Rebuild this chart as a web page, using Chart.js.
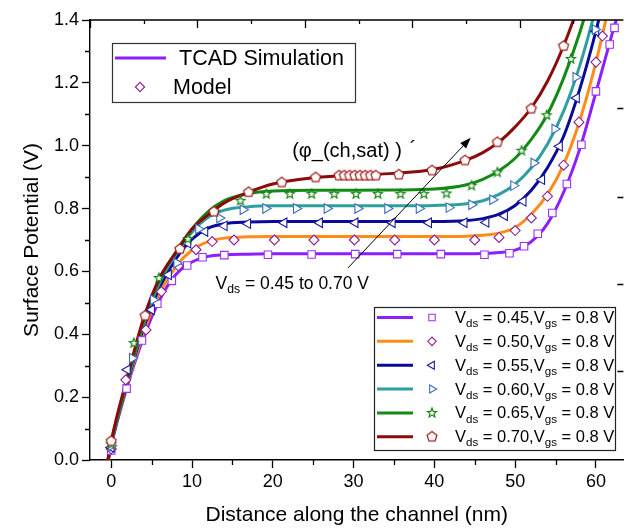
<!DOCTYPE html>
<html>
<head>
<meta charset="utf-8">
<script src="https://cdn.jsdelivr.net/npm/chart.js@4.4.1/dist/chart.umd.min.js"></script>
<style>
  html, body { margin: 0; padding: 0; background: #fff; }
</style>
</head>
<body>
<canvas id="potChart" width="630" height="528"></canvas>
<script>
// Surface potential along the channel, Vgs = 0.8 V, Vds = 0.45 ... 0.70 V
var vdsLabels = ['0.45', '0.50', '0.55', '0.60', '0.65', '0.70'];

// TCAD simulation curves, all read on the same x grid (nm)
var tcadX   = [-1, 0, 2, 4, 6, 8, 10, 12, 14, 17, 20, 25, 30, 35, 40, 44, 46, 48, 50, 52, 54, 56, 58, 60, 62, 64];
var tcad045 = [-0.09, 0.045, 0.235, 0.39, 0.51, 0.59, 0.63, 0.648, 0.653, 0.655, 0.656, 0.656, 0.656, 0.656, 0.656, 0.656, 0.657, 0.66, 0.668, 0.695, 0.752, 0.852, 0.99, 1.17, 1.355, 1.53];
var tcad050 = [-0.09, 0.05, 0.24, 0.405, 0.53, 0.615, 0.668, 0.695, 0.706, 0.71, 0.711, 0.711, 0.711, 0.711, 0.711, 0.712, 0.715, 0.722, 0.74, 0.782, 0.845, 0.94, 1.08, 1.265, 1.49, 1.72];
var tcad055 = [-0.09, 0.05, 0.245, 0.42, 0.55, 0.64, 0.703, 0.738, 0.752, 0.757, 0.759, 0.759, 0.759, 0.759, 0.759, 0.762, 0.768, 0.782, 0.81, 0.858, 0.93, 1.03, 1.18, 1.365, 1.58, 1.8];
var tcad060 = [-0.09, 0.052, 0.25, 0.43, 0.565, 0.655, 0.725, 0.772, 0.795, 0.806, 0.809, 0.809, 0.809, 0.809, 0.81, 0.815, 0.825, 0.845, 0.878, 0.93, 1.005, 1.11, 1.255, 1.44, 1.66, 1.9];
var tcad065 = [-0.09, 0.055, 0.255, 0.44, 0.575, 0.662, 0.735, 0.79, 0.825, 0.848, 0.856, 0.858, 0.858, 0.859, 0.862, 0.876, 0.893, 0.92, 0.96, 1.02, 1.1, 1.215, 1.36, 1.54, 1.75, 1.98];
var tcad070 = [-0.09, 0.06, 0.265, 0.45, 0.58, 0.66, 0.735, 0.78, 0.818, 0.852, 0.878, 0.898, 0.906, 0.912, 0.925, 0.955, 0.978, 1.012, 1.06, 1.12, 1.205, 1.318, 1.46, 1.64, 1.85, 2.08];

// model points
var model045X = [0.0, 1.9, 3.8, 5.7, 7.5, 9.4, 11.3, 14.0, 19.4, 24.8, 30.2, 35.4, 40.8, 46.2, 49.3, 51.1, 52.8, 54.6, 56.4, 58.2, 60.0, 61.7, 62.3];
var model045Y = [0.03, 0.227, 0.38, 0.497, 0.57, 0.619, 0.645, 0.652, 0.653, 0.654, 0.655, 0.655, 0.655, 0.653, 0.658, 0.68, 0.72, 0.786, 0.878, 1.003, 1.173, 1.322, 1.375];
var model050X = [0.0, 1.8, 4.3, 6.2, 8.3, 10.5, 12.5, 15.2, 20.2, 25.1, 30.1, 35.1, 40.0, 45.0, 48.0, 50.0, 52.0, 54.0, 56.0, 57.9, 60.0, 60.8];
var model050Y = [0.035, 0.255, 0.414, 0.536, 0.618, 0.669, 0.695, 0.70, 0.70, 0.70, 0.70, 0.70, 0.70, 0.70, 0.708, 0.73, 0.77, 0.839, 0.938, 1.075, 1.266, 1.349];
var model055X = [0.0, 2.0, 5.0, 7.1, 9.5, 11.6, 14.0, 16.9, 21.4, 25.8, 30.2, 34.8, 39.3, 43.7, 46.4, 48.7, 51.0, 53.3, 55.5, 57.6, 60.0];
var model055Y = [0.04, 0.287, 0.478, 0.589, 0.69, 0.727, 0.745, 0.752, 0.755, 0.755, 0.755, 0.755, 0.755, 0.755, 0.756, 0.777, 0.823, 0.892, 0.998, 1.152, 1.364];
var model060X = [0.0, 2.6, 5.2, 8.1, 10.8, 13.4, 16.3, 19.1, 22.9, 26.7, 30.5, 34.2, 38.1, 41.8, 44.6, 47.2, 49.8, 52.3, 54.9, 57.5, 59.9];
var model060Y = [0.045, 0.324, 0.51, 0.627, 0.735, 0.77, 0.796, 0.80, 0.80, 0.80, 0.80, 0.80, 0.80, 0.803, 0.812, 0.828, 0.873, 0.945, 1.053, 1.218, 1.37];
var model065X = [0.0, 2.8, 5.9, 9.5, 12.8, 16.0, 19.2, 22.1, 24.8, 27.6, 30.3, 33.0, 35.8, 38.7, 41.5, 44.6, 47.8, 50.8, 53.9, 56.9];
var model065Y = [0.05, 0.372, 0.579, 0.703, 0.79, 0.825, 0.846, 0.846, 0.846, 0.846, 0.846, 0.846, 0.846, 0.846, 0.848, 0.873, 0.915, 0.984, 1.097, 1.276];
var model070X = [0.0, 4.2, 8.5, 12.7, 17.0, 21.1, 25.3, 28.2, 28.85, 29.5, 30.15, 30.8, 31.45, 32.1, 32.75, 35.6, 39.7, 43.8, 47.8, 52.0, 56.0];
var model070Y = [0.06, 0.459, 0.671, 0.79, 0.852, 0.883, 0.899, 0.905, 0.905, 0.905, 0.905, 0.905, 0.905, 0.905, 0.905, 0.908, 0.921, 0.953, 1.011, 1.118, 1.317];

var xTicks = [0, 10, 20, 30, 40, 50, 60];
var xMinorTicks = [5, 15, 25, 35, 45, 55];
var yTicks = [0, 0.2, 0.4, 0.6, 0.8, 1.0, 1.2, 1.4];
var yMinorTicks = [0.1, 0.3, 0.5, 0.7, 0.9, 1.1, 1.3];
var rightTicks = [1.12, 0.837, 0.56, 0.283];

var lineColors = ['#8c1eff', '#ff8c1a', '#0a0a9a', '#2e9e9e', '#138a13', '#8b0a0a'];
var markColors = ['#9b30ff', '#902090', '#1a1aa0', '#3a6fbf', '#108010', '#a01818'];
var FONT = '"Liberation Sans", Arial, sans-serif';

function xy(xs, ys) {
  return xs.map(function(x, i) { return {x: x, y: ys[i]}; });
}

// hollow pentagon / star markers drawn on small canvases
function shapeCanvas(color, size, drawPath) {
  var c = document.createElement('canvas');
  c.width = size; c.height = size;
  var g = c.getContext('2d');
  g.translate(size / 2, size / 2);
  g.beginPath();
  drawPath(g);
  g.closePath();
  g.fillStyle = '#fff';
  g.fill();
  g.strokeStyle = color;
  g.lineWidth = 1.2;
  g.stroke();
  return c;
}
function polyPath(n, rOut, rIn) {
  return function(g) {
    var pts = rIn ? n * 2 : n;
    for (var i = 0; i < pts; i++) {
      var r = rIn && i % 2 ? rIn : rOut;
      var a = -Math.PI / 2 + i * 2 * Math.PI / pts;
      if (i === 0) g.moveTo(r * Math.cos(a), r * Math.sin(a));
      else g.lineTo(r * Math.cos(a), r * Math.sin(a));
    }
  };
}
var pentagon = shapeCanvas(markColors[5], 14, polyPath(5, 5.2));
var star = shapeCanvas(markColors[4], 14, polyPath(5, 4.8, 2.1));

var markStyles = [
  {pointStyle: 'rect', radius: 5.3, rotation: 0},
  {pointStyle: 'rectRot', radius: 5.0, rotation: 0},
  {pointStyle: 'triangle', radius: 5.5, rotation: -90},
  {pointStyle: 'triangle', radius: 5.5, rotation: 90},
  {pointStyle: star, radius: 5, rotation: 0},
  {pointStyle: pentagon, radius: 5.5, rotation: 0}
];

var tcadSeries = [tcad045, tcad050, tcad055, tcad060, tcad065, tcad070];
var modelX = [model045X, model050X, model055X, model060X, model065X, model070X];
var modelY = [model045Y, model050Y, model055Y, model060Y, model065Y, model070Y];

var datasets = [];
tcadSeries.forEach(function(ys, i) {
  datasets.push({
    label: 'TCAD ' + vdsLabels[i],
    data: xy(tcadX, ys),
    showLine: true,
    borderColor: lineColors[i],
    borderWidth: 3,
    pointRadius: 0,
    fill: false,
    cubicInterpolationMode: 'monotone',
    order: 20 - i
  });
});
modelX.forEach(function(xs, i) {
  var st = markStyles[i];
  datasets.push({
    label: 'Model ' + vdsLabels[i],
    data: xy(xs, modelY[i]),
    showLine: false,
    pointStyle: st.pointStyle,
    pointRadius: st.radius,
    pointRotation: st.rotation,
    pointBorderColor: markColors[i],
    pointBackgroundColor: '#fff',
    pointBorderWidth: 1.1,
    order: 10 - i
  });
});

// annotation, in data units
var arrowFrom = {x: 29.3, y: 0.611};
var arrowTo = {x: 44.5, y: 1.025};
var phiLabelPos = {x: 22.4, y: 0.983};
var vdsLabelPos = {x: 12.9, y: 0.56};

function subText(ctx, x, y, parts, size) {
  parts.forEach(function(p) {
    var sub = p[1];
    ctx.font = (sub ? size * 0.7 : size) + 'px ' + FONT;
    ctx.fillText(p[0], x, sub ? y + size * 0.33 : y);
    x += ctx.measureText(p[0]).width;
  });
}

var decor = {
  id: 'decor',
  afterDraw: function(chart) {
    var ctx = chart.ctx, a = chart.chartArea;
    var xs = chart.scales.x, ys = chart.scales.y;
    ctx.save();
    ctx.strokeStyle = '#000';
    ctx.lineWidth = 1.3;
    ctx.beginPath();
    // top frame
    ctx.moveTo(a.left, a.top); ctx.lineTo(a.right, a.top);
    // minor ticks
    xMinorTicks.forEach(function(v) {
      var px = Math.round(xs.getPixelForValue(v)) + 0.5;
      ctx.moveTo(px, a.bottom); ctx.lineTo(px, a.bottom + 5);
    });
    yMinorTicks.forEach(function(v) {
      var py = Math.round(ys.getPixelForValue(v)) + 0.5;
      ctx.moveTo(a.left, py); ctx.lineTo(a.left - 5, py);
    });
    // top axis ticks (inward)
    for (var k = 0; k <= 9; k++) {
      var tx = Math.round(xs.getPixelForValue(xs.min + k * 6.65)) + 0.5;
      ctx.moveTo(tx, a.top); ctx.lineTo(tx, a.top + (k % 2 ? 4 : 8));
    }
    // right axis ticks (inward)
    rightTicks.forEach(function(v) {
      var py = Math.round(ys.getPixelForValue(v)) + 0.5;
      ctx.moveTo(a.right, py); ctx.lineTo(a.right - 6, py);
    });
    ctx.stroke();

    // arrow
    var x0 = xs.getPixelForValue(arrowFrom.x), y0 = ys.getPixelForValue(arrowFrom.y);
    var x1 = xs.getPixelForValue(arrowTo.x), y1 = ys.getPixelForValue(arrowTo.y);
    var ang = Math.atan2(y1 - y0, x1 - x0);
    ctx.lineWidth = 1;
    ctx.beginPath();
    ctx.moveTo(x0, y0); ctx.lineTo(x1 - 6 * Math.cos(ang), y1 - 6 * Math.sin(ang));
    ctx.stroke();
    ctx.beginPath();
    ctx.moveTo(x1, y1);
    ctx.lineTo(x1 - 11 * Math.cos(ang) + 4 * Math.sin(ang), y1 - 11 * Math.sin(ang) - 4 * Math.cos(ang));
    ctx.lineTo(x1 - 11 * Math.cos(ang) - 4 * Math.sin(ang), y1 - 11 * Math.sin(ang) + 4 * Math.cos(ang));
    ctx.closePath();
    ctx.fillStyle = '#000';
    ctx.fill();

    ctx.fillStyle = '#000';
    ctx.textBaseline = 'middle';
    ctx.textAlign = 'left';
    ctx.font = '20px ' + FONT;
    var phx = xs.getPixelForValue(phiLabelPos.x), phy = ys.getPixelForValue(phiLabelPos.y);
    ctx.fillText('(\u03c6_(ch,sat) )', phx, phy);
    ctx.fillText('\u00b4', phx + ctx.measureText('(\u03c6_(ch,sat) )').width + 8, phy - 2);
    subText(ctx, xs.getPixelForValue(vdsLabelPos.x), ys.getPixelForValue(vdsLabelPos.y),
      [['V', false], ['ds', true], [' = 0.45 to 0.70 V', false]], 17.5);

    // legend 1
    ctx.fillStyle = '#fff';
    ctx.fillRect(112, 43, 244, 60);
    ctx.strokeStyle = '#333';
    ctx.lineWidth = 1.2;
    ctx.strokeRect(112.5, 43.5, 243, 59);
    ctx.strokeStyle = lineColors[0];
    ctx.lineWidth = 3;
    ctx.beginPath(); ctx.moveTo(115, 58); ctx.lineTo(166, 58); ctx.stroke();
    ctx.fillStyle = '#fff';
    ctx.strokeStyle = markColors[1];
    ctx.lineWidth = 1.1;
    Chart.helpers.drawPoint(ctx, {pointStyle: 'rectRot', radius: 4.6, rotation: 0, borderWidth: 1.1}, 140, 87);
    ctx.fillStyle = '#000';
    ctx.font = '21.5px ' + FONT;
    ctx.fillText('TCAD Simulation', 179, 59);
    ctx.fillText('Model', 173, 88);

    // legend 2
    ctx.fillStyle = '#fff';
    ctx.fillRect(374, 307, 242, 144);
    ctx.strokeStyle = '#222';
    ctx.lineWidth = 1.2;
    ctx.strokeRect(374.5, 307.5, 241, 143);
    for (var i = 0; i < 6; i++) {
      var ry = 317.5 + i * 23.85;
      ctx.strokeStyle = lineColors[i];
      ctx.lineWidth = 3;
      ctx.beginPath(); ctx.moveTo(377, ry); ctx.lineTo(413, ry); ctx.stroke();
      var st = markStyles[i];
      ctx.fillStyle = '#fff';
      ctx.strokeStyle = markColors[i];
      ctx.lineWidth = 1.1;
      Chart.helpers.drawPoint(ctx, {pointStyle: st.pointStyle, radius: st.radius * 0.85, rotation: st.rotation, borderWidth: 1.1}, 432, ry);
      ctx.fillStyle = '#000';
      subText(ctx, 455, ry + 1, [['V', false], ['ds', true], [' = ' + vdsLabels[i] + ',', false],
        ['V', false], ['gs', true], [' = 0.8 V', false]], 16.5);
    }
    ctx.restore();
  }
};

var ctx = document.getElementById('potChart').getContext('2d');
var myChart = new Chart(ctx, {
  type: 'scatter',
  data: { datasets: datasets },
  options: {
    responsive: false,
    animation: false,
    layout: { padding: { top: 20, right: 0, left: 0, bottom: 0 } },
    plugins: { legend: { display: false }, tooltip: { enabled: false } },
    scales: {
      x: {
        type: 'linear',
        min: -2.63,
        max: 63.4,
        afterBuildTicks: function(s) { s.ticks = xTicks.map(function(v) { return {value: v}; }); },
        afterFit: function(s) { s.height = 68; },
        grid: { drawOnChartArea: false, tickLength: 8, tickColor: '#000', tickWidth: 1.3 },
        border: { color: '#000', width: 1.4 },
        ticks: { color: '#000', padding: 3, font: { family: FONT, size: 18 }, maxRotation: 0,
          callback: function(v) { return String(v); } },
        title: { display: true, text: 'Distance along the channel (nm)', color: '#000',
          font: { family: FONT, size: 21 }, padding: { top: 0, bottom: 0 } }
      },
      y: {
        type: 'linear',
        min: 0,
        max: 1.4,
        afterBuildTicks: function(s) { s.ticks = yTicks.map(function(v) { return {value: v}; }); },
        afterFit: function(s) { s.width = 90; },
        grid: { drawOnChartArea: false, tickLength: 8, tickColor: '#000', tickWidth: 1.3 },
        border: { color: '#000', width: 1.4 },
        ticks: { color: '#000', padding: 3, font: { family: FONT, size: 18 },
          callback: function(v) { return Number(v).toFixed(1); } },
        title: { display: true, text: 'Surface Potential (V)', color: '#000',
          font: { family: FONT, size: 21 }, padding: { top: 20, bottom: 0 } }
      }
    }
  },
  plugins: [decor]
});
</script>
</body>
</html>
